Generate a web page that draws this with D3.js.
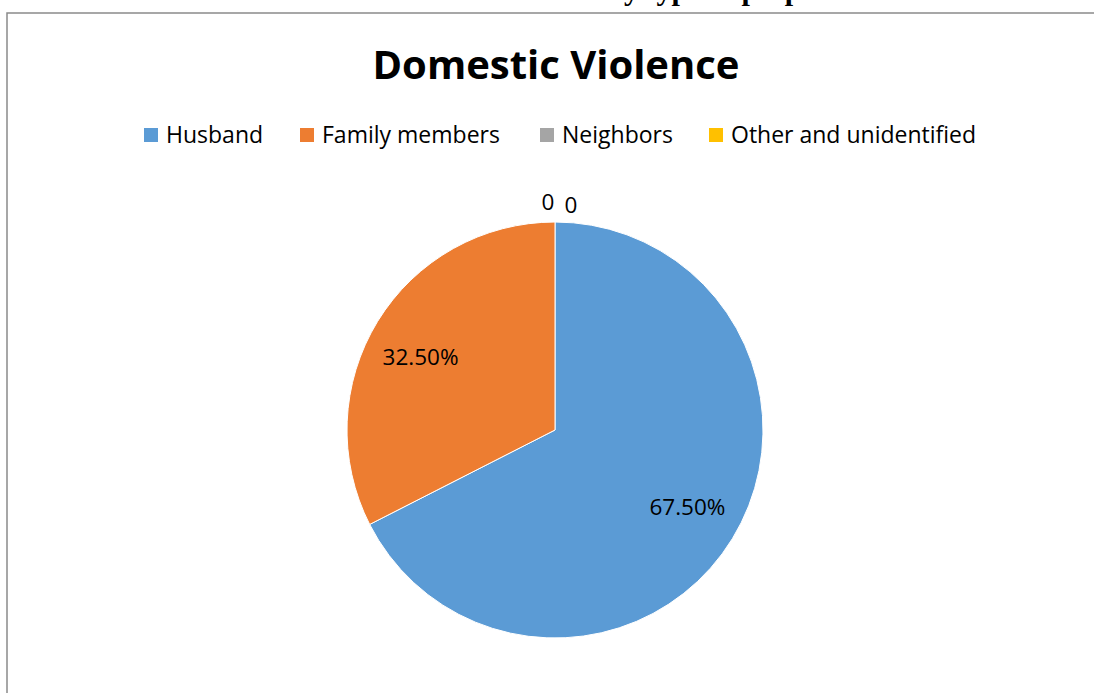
<!DOCTYPE html>
<html>
<head>
<meta charset="utf-8">
<script src="https://cdn.jsdelivr.net/npm/d3@7"></script>
<style>
  html, body { margin: 0; padding: 0; background: #fff; }
  svg { display: block; }
</style>
</head>
<body>
<svg id="chart" width="1094" height="693"></svg>
<script>
// Perpetrator categories and their shares of domestic violence cases
const categories = ["Husband", "Family members", "Neighbors", "Other and unidentified"];
const shares = [0.675, 0.325, 0, 0];
const shareLabels = ["67.50%", "32.50%", "0", "0"];
const colors = ["#5B9BD5", "#ED7D31", "#A5A5A5", "#FFC000"];

const caption = "Chart 1: The abuse of violence by type of perpetrators.";
const title = "Domestic Violence";

const W = 1094, H = 693;
const svg = d3.select("#chart");
const uiFont = "'Open Sans', 'Noto Sans', sans-serif";

// Document caption above the chart frame (runs off the top of the page)
svg.append("text")
  .attr("x", 560).attr("y", -0.3)
  .attr("text-anchor", "middle")
  .attr("font-family", "'Liberation Serif', 'Times New Roman', serif")
  .attr("font-weight", "bold")
  .attr("font-size", 30)
  .attr("fill", "#000")
  .text(caption);

// Chart frame
svg.append("rect")
  .attr("x", 7).attr("y", 13)
  .attr("width", W + 20).attr("height", H + 20)
  .attr("fill", "#fff")
  .attr("stroke", "#8a8a8a")
  .attr("stroke-width", 1.5);

// Title
svg.append("text")
  .attr("x", 556).attr("y", 79)
  .attr("text-anchor", "middle")
  .attr("font-family", uiFont)
  .attr("font-weight", "bold")
  .attr("font-size", 40)
  .attr("fill", "#000")
  .text(title);

// Legend
const legendX = d3.scaleOrdinal().domain(categories).range([144, 300, 540, 709]);
const legend = svg.append("g").attr("class", "legend");
const item = legend.selectAll("g").data(categories).join("g")
  .attr("transform", d => `translate(${legendX(d)},128)`);
item.append("rect")
  .attr("width", 14).attr("height", 14)
  .attr("fill", (d, i) => colors[i]);
item.append("text")
  .attr("x", 22).attr("y", 15)
  .attr("font-family", uiFont)
  .attr("font-size", 23)
  .attr("fill", "#000")
  .text(d => d);

// Pie
const cx = 555, cy = 430, R = 208;
const pie = d3.pie().sort(null).value(d => d.value);
const arcs = pie(categories.map((c, i) => ({ name: c, value: shares[i], label: shareLabels[i], color: colors[i] })));
const arc = d3.arc().innerRadius(0).outerRadius(R);
const labelArc = d3.arc().innerRadius(R * 0.73).outerRadius(R * 0.73);
const outerArc = d3.arc().innerRadius(R + 20).outerRadius(R + 20);

const g = svg.append("g").attr("transform", `translate(${cx},${cy})`);
g.selectAll("path").data(arcs).join("path")
  .attr("d", arc)
  .attr("fill", d => d.data.color)
  .attr("stroke", "#fff")
  .attr("stroke-width", d => d.value > 0 ? 1 : 0);

// Data labels: inside for non-empty slices, just outside the rim for empty ones
let zeroIndex = 0;
g.selectAll("text.value").data(arcs).join("text")
  .attr("class", "value")
  .attr("transform", d => {
    if (d.value > 0) {
      const [x, y] = labelArc.centroid(d);
      return `translate(${x - (x < 0 ? 5 : -3)},${y + (y < 0 ? 6 : -2)})`;
    }
    const [x, y] = outerArc.centroid(d);
    const first = zeroIndex++ === 0;
    return `translate(${x + (first ? -7 : 16)},${y + (first ? 0 : 3)})`;
  })
  .attr("text-anchor", "middle")
  .attr("dy", "0.35em")
  .attr("font-family", uiFont)
  .attr("font-size", 22.5)
  .attr("fill", "#000")
  .text(d => d.data.label);
</script>
</body>
</html>
